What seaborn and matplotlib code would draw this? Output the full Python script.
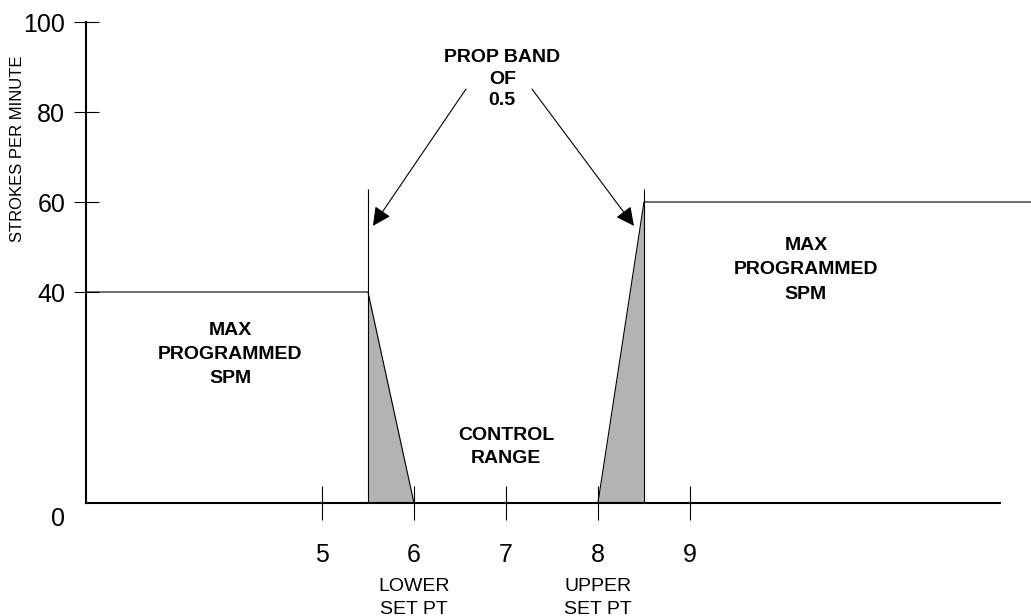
import numpy as np
import pandas as pd
import matplotlib
matplotlib.use("Agg")
import matplotlib.pyplot as plt
import matplotlib.transforms as mtransforms
import seaborn as sns

# chart values
x_ticks = [5, 6, 7, 8, 9]
y_ticks = [0, 40, 60, 80, 100]
lower_set_pt = 6.0
upper_set_pt = 8.0
prop_band = 0.5
left_max_spm = 40
right_max_spm = 60
divider_top = 63
x_start = 2.435
x_end = 12.707
axis_end = 12.37

sns.set_style("white")
plt.rcParams['font.family'] = ['Liberation Sans', 'DejaVu Sans']
plt.rcParams['text.color'] = 'black'
plt.rcParams['axes.labelcolor'] = 'black'

# speed profile: max spm, ramp down across the prop band, off in control range, ramp up
curve = pd.DataFrame({
    'x': [x_start, lower_set_pt - prop_band, lower_set_pt,
          upper_set_pt, upper_set_pt + prop_band, x_end],
    'spm': [left_max_spm, left_max_spm, 0, 0, right_max_spm, right_max_spm],
})

fig = plt.figure(figsize=(10.31, 6.16), dpi=100)
ax = fig.add_axes([86 / 1031, 1 - 503 / 616, 945 / 1031, 481 / 616])

# the drawing is not to scale below 40 spm
def fwd(y):
    y = np.asarray(y, dtype=float)
    return np.where(y < 40, y * 211 / 40, 211 + (y - 40) * 4.5)

def inv(v):
    v = np.asarray(v, dtype=float)
    return np.where(v < 211, v * 40 / 211, 40 + (v - 211) / 4.5)

ax.set_yscale('function', functions=(fwd, inv))

gray = '#b3b3b3'
ax.fill_between([lower_set_pt - prop_band, lower_set_pt], [left_max_spm, 0], 0,
                color=gray, lw=0)
ax.fill_between([upper_set_pt, upper_set_pt + prop_band], [0, right_max_spm], 0,
                color=gray, lw=0)
sns.lineplot(data=curve, x='x', y='spm', sort=False, estimator=None,
             color='black', lw=0.8, ax=ax)
ax.vlines([lower_set_pt - prop_band, upper_set_pt + prop_band], 0, divider_top,
          color='black', lw=0.8)

ax.set_xlim(x_start, x_end)
ax.set_ylim(0, 100)
ax.set_xticks(x_ticks)
ax.set_yticks(y_ticks)
ax.set_xticklabels([str(t) for t in x_ticks])
ax.set_yticklabels([str(t) for t in y_ticks])

for s in ['top', 'right']:
    ax.spines[s].set_visible(False)
for s in ['left', 'bottom']:
    ax.spines[s].set_linewidth(1.5)
    ax.spines[s].set_color('black')
ax.spines['bottom'].set_bounds(x_start, axis_end)
ax.spines['left'].set_bounds(0, 100)

ax.tick_params(axis='x', bottom=True, direction='inout', length=24, width=0.8,
               pad=17, labelsize=18, colors='black')
ax.tick_params(axis='y', left=True, direction='inout', length=18, width=0.8,
               pad=6, labelsize=18, colors='black')
ax.yaxis.get_major_ticks()[0].tick1line.set_visible(False)
zero_label = ax.get_yticklabels()[0]
zero_label.set_va('top')
zero_label.set_transform(zero_label.get_transform() +
                         mtransforms.ScaledTranslation(0, -3 / 72, fig.dpi_scale_trans))

ax.set_xlabel('')
ax.set_ylabel('STROKES PER MINUTE', fontsize=12)
ax.yaxis.set_label_coords(-0.0646, 0.736)

bold = dict(fontsize=14, fontweight='bold', ha='center', va='center', linespacing=1.55)
ax.text(4.0, 28.1, 'MAX\nPROGRAMMED\nSPM', **bold)
ax.text(10.26, 44.9, 'MAX\nPROGRAMMED\nSPM', **bold)
ax.text(7.0, 10.6, 'CONTROL\nRANGE', fontsize=14, fontweight='bold',
        ha='center', va='center', linespacing=1.45)
ax.text(6.96, 87.3, 'PROP BAND\nOF\n0.5', fontsize=14, fontweight='bold',
        ha='center', va='center', linespacing=1.36)

arrow = dict(arrowstyle='-|>', color='black', lw=0.8, mutation_scale=28,
             shrinkA=0, shrinkB=0)
ax.annotate('', xy=(5.554, 54.7), xytext=(6.565, 85.1), arrowprops=arrow)
ax.annotate('', xy=(8.391, 54.7), xytext=(7.283, 85.1), arrowprops=arrow)

trans = ax.get_xaxis_transform()
ax.text(lower_set_pt, -0.197, 'LOWER\nSET PT', transform=trans, fontsize=14,
        ha='center', va='center', linespacing=1.45)
ax.text(upper_set_pt, -0.197, 'UPPER\nSET PT', transform=trans, fontsize=14,
        ha='center', va='center', linespacing=1.45)

fig.savefig('out.png', dpi=100)
